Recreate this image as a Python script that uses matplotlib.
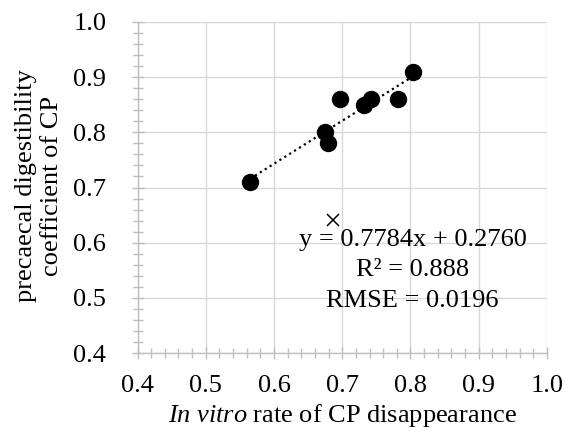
import matplotlib.pyplot as plt
from matplotlib.ticker import MultipleLocator

plt.rcParams['font.family'] = ['Liberation Serif', 'DejaVu Serif']
plt.rcParams['mathtext.fontset'] = 'custom'
plt.rcParams['mathtext.rm'] = 'Liberation Serif'
plt.rcParams['mathtext.it'] = 'Liberation Serif:italic'

# measured points (in vitro rate vs precaecal digestibility)
rate_x = [0.565, 0.675, 0.679, 0.697, 0.732, 0.742, 0.782, 0.803]
digest_y = [0.71, 0.80, 0.78, 0.86, 0.85, 0.86, 0.86, 0.91]
# excluded point
outlier_x = [0.687]
outlier_y = [0.641]
# regression
slope = 0.7784
intercept = 0.2760
r2 = 0.888
rmse = 0.0196

fig = plt.figure(figsize=(5.65, 4.38), dpi=100)
ax = fig.add_axes([0.2434, 0.194, 0.7246, 0.7558])

gray = '#bfbfbf'
ax.grid(True, color='#d9d9d9', linewidth=1)
ax.set_axisbelow(True)

line_x = [min(rate_x), max(rate_x)]
line_y = [slope * v + intercept for v in line_x]
ax.plot(line_x, line_y, color='black', linestyle=(0, (1, 1.6)), linewidth=1.6, zorder=2)
ax.plot(rate_x, digest_y, 'o', color='black', markersize=11.5, zorder=3)
ax.plot(outlier_x, outlier_y, 'x', color='black', markersize=9, markeredgewidth=1.1, zorder=3)

ax.set_xlim(0.4, 1.0)
ax.set_ylim(0.4, 1.0)
ax.xaxis.set_major_locator(MultipleLocator(0.1))
ax.yaxis.set_major_locator(MultipleLocator(0.1))
ax.xaxis.set_minor_locator(MultipleLocator(0.02))
ax.yaxis.set_minor_locator(MultipleLocator(0.02))
ax.xaxis.set_major_formatter(plt.FuncFormatter(lambda v, p: f"{v:.1f}"))
ax.yaxis.set_major_formatter(plt.FuncFormatter(lambda v, p: f"{v:.1f}"))

for side in ['top', 'right']:
    ax.spines[side].set_visible(False)
for side in ['left', 'bottom']:
    ax.spines[side].set_color(gray)
    ax.spines[side].set_linewidth(1)

ax.tick_params(which='both', direction='inout', color=gray, width=1)
ax.tick_params(which='major', length=9, labelsize=19)
ax.tick_params(which='minor', length=7)
ax.tick_params(axis='x', which='major', pad=11)
ax.tick_params(axis='y', which='major', pad=18)

ax.set_xlabel(r"$\it{In\ vitro}$ rate of CP disappearance", fontsize=19, labelpad=4)
ax.set_ylabel("precaecal digestibility\ncoefficient of CP", fontsize=19,
              linespacing=1.2)
ax.yaxis.set_label_coords(-0.183, 0.505)

eq_x = 0.803
ax.text(eq_x, 0.605, f"y = {slope:.4f}x + {intercept:.4f}", fontsize=19, ha='center', va='center')
ax.text(eq_x, 0.551, f"R² = {r2:.3f}", fontsize=19, ha='center', va='center')
ax.text(eq_x, 0.494, f"RMSE = {rmse:.4f}", fontsize=19, ha='center', va='center')

fig.savefig('out.png', dpi=100)
